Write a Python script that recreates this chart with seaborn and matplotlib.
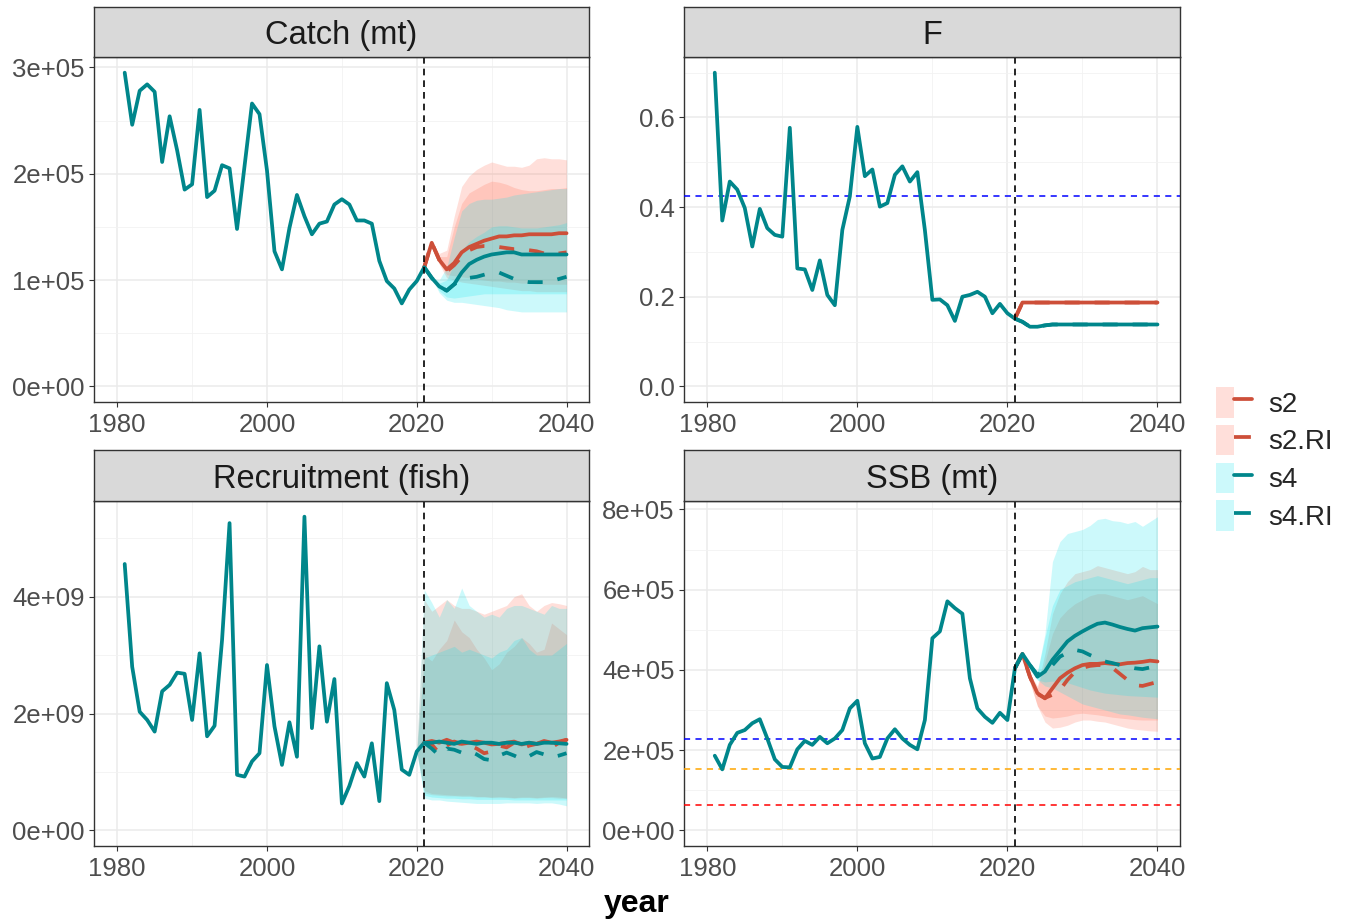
import numpy as np
import pandas as pd
import matplotlib
matplotlib.use("Agg")
import matplotlib.pyplot as plt
import seaborn as sns
from matplotlib.lines import Line2D
from matplotlib.patches import Patch
from matplotlib.legend_handler import HandlerTuple
from matplotlib.ticker import FixedLocator, FuncFormatter

sns.set_theme(style="white")
plt.rcParams["font.family"] = ["Liberation Sans", "DejaVu Sans"]

# ---------------- data ----------------
scenarios = ["s2", "s2.RI", "s4", "s4.RI"]
years_hist = list(range(1981, 2022))
years_proj = list(range(2022, 2041))

catch_hist = [295, 246, 278, 284, 277, 211, 254, 222, 185, 190, 260, 178, 184, 208, 205, 148,
              207, 266, 256, 203, 127, 110, 149, 180, 160, 143, 153, 155, 171, 176, 171, 156,
              156, 153, 118, 99, 92, 78, 91, 99, 112]  # thousand mt
catch_s2 = [135, 119, 110, 116, 126, 131, 134, 137, 139, 141, 141, 142, 142, 143, 143, 143, 143, 144, 144]
catch_s2RI = [135, 119, 108, 114, 122, 128, 131, 132, 132, 131, 130, 129, 129, 128, 127, 125, 124, 125, 126]
catch_s4 = [102, 94, 90, 96, 107, 115, 119, 122, 124, 125, 126, 126, 124, 124, 124, 124, 124, 124, 124]
catch_s4RI = [102, 94, 90, 96, 100, 102, 103, 105, 107, 107, 104, 101, 99, 98, 98, 98, 99, 101, 103]
catch_s2_hi = [135, 125, 128, 160, 188, 198, 204, 208, 211, 209, 207, 207, 206, 208, 214, 215, 214, 214, 213]
catch_s2_lo = [135, 116, 105, 104, 103, 102, 101, 100, 99, 99, 98, 98, 97, 97, 96, 96, 96, 96, 96]
catch_s2RI_hi = [135, 122, 122, 150, 172, 182, 186, 190, 193, 192, 190, 187, 185, 184, 184, 185, 186, 186, 187]
catch_s2RI_lo = [135, 115, 102, 100, 98, 97, 96, 95, 94, 93, 92, 91, 90, 90, 89, 89, 89, 89, 89]
catch_s4_hi = [102, 100, 112, 140, 165, 172, 175, 176, 176, 177, 178, 180, 181, 182, 183, 184, 185, 186, 186]
catch_s4_lo = [102, 90, 84, 83, 84, 85, 86, 87, 87, 87, 87, 87, 87, 87, 87, 87, 87, 87, 87]
catch_s4RI_hi = [102, 97, 100, 115, 128, 136, 141, 145, 150, 151, 151, 150, 149, 149, 149, 150, 151, 152, 154]
catch_s4RI_lo = [102, 88, 81, 79, 79, 78, 77, 76, 75, 74, 72, 71, 70, 70, 70, 70, 70, 70, 70]

f_hist = [0.70, 0.37, 0.457, 0.439, 0.398, 0.312, 0.396, 0.353, 0.338, 0.334, 0.577, 0.263, 0.261,
          0.215, 0.281, 0.204, 0.181, 0.349, 0.424, 0.579, 0.469, 0.484, 0.401, 0.409, 0.472, 0.491,
          0.457, 0.478, 0.349, 0.193, 0.194, 0.181, 0.146, 0.200, 0.204, 0.211, 0.200, 0.163, 0.184,
          0.163, 0.151]
f_s2 = [0.187] * 19
f_s2RI = [0.187] * 19
f_s4 = [0.144, 0.133, 0.133, 0.136] + [0.138] * 15
f_s4RI = [0.144, 0.133, 0.133, 0.136] + [0.138] * 15
f_ref = 0.425

rec_hist = [4.56, 2.80, 2.03, 1.89, 1.69, 2.38, 2.49, 2.70, 2.68, 1.89, 3.03, 1.61, 1.79, 3.26, 5.26,
            0.95, 0.92, 1.18, 1.32, 2.83, 1.78, 1.12, 1.85, 1.26, 5.37, 1.75, 3.15, 1.86, 2.59, 0.46,
            0.76, 1.15, 0.92, 1.49, 0.50, 2.52, 2.06, 1.04, 0.95, 1.35, 1.50]  # billions
rec_s2 = [1.53, 1.50, 1.55, 1.50, 1.48, 1.50, 1.52, 1.50, 1.47, 1.48, 1.50, 1.52, 1.47, 1.50, 1.48, 1.53, 1.50, 1.52, 1.55]
rec_s2RI = [1.47, 1.32, 1.45, 1.52, 1.48, 1.46, 1.40, 1.32, 1.35, 1.45, 1.42, 1.50, 1.40, 1.45, 1.48, 1.50, 1.42, 1.50, 1.55]
rec_s4 = [1.50, 1.52, 1.50, 1.48, 1.52, 1.50, 1.48, 1.50, 1.50, 1.48, 1.50, 1.50, 1.48, 1.50, 1.48, 1.50, 1.50, 1.49, 1.48]
rec_s4RI = [1.40, 1.28, 1.40, 1.38, 1.33, 1.36, 1.30, 1.22, 1.20, 1.28, 1.33, 1.28, 1.22, 1.27, 1.34, 1.30, 1.25, 1.28, 1.32]
years_rec_band = list(range(2020, 2041))
rec_s2_hi = [1.35, 3.95, 3.75, 3.85, 3.95, 3.85, 3.80, 3.80, 3.75, 3.70, 3.75, 3.80, 3.85, 4.00, 4.05, 3.85, 3.75, 3.85, 3.90, 3.88, 3.85]
rec_s2_lo = [1.35, 0.68, 0.63, 0.62, 0.61, 0.60, 0.60, 0.60, 0.58, 0.58, 0.57, 0.58, 0.57, 0.56, 0.57, 0.57, 0.56, 0.57, 0.58, 0.57, 0.55]
rec_s2RI_hi = [1.35, 3.00, 2.90, 3.10, 3.25, 3.60, 3.40, 3.30, 3.10, 2.95, 2.75, 2.85, 3.05, 3.15, 3.30, 3.20, 3.05, 3.10, 3.55, 3.45, 3.35]
rec_s2RI_lo = [1.35, 0.64, 0.61, 0.60, 0.59, 0.59, 0.58, 0.58, 0.57, 0.57, 0.56, 0.56, 0.56, 0.55, 0.56, 0.56, 0.55, 0.56, 0.56, 0.55, 0.55]
rec_s4_hi = [1.35, 4.12, 3.90, 3.65, 3.95, 3.80, 4.15, 3.85, 3.75, 3.65, 3.70, 3.65, 3.80, 3.85, 3.85, 3.80, 3.75, 3.70, 3.85, 3.80, 3.80]
rec_s4_lo = [1.35, 0.55, 0.52, 0.52, 0.50, 0.49, 0.48, 0.47, 0.46, 0.46, 0.46, 0.46, 0.47, 0.47, 0.47, 0.47, 0.46, 0.47, 0.47, 0.45, 0.42]
rec_s4RI_hi = [1.35, 2.95, 3.00, 3.05, 3.10, 3.15, 3.05, 3.10, 3.05, 3.00, 2.95, 3.05, 3.10, 3.25, 3.30, 3.10, 3.00, 3.00, 3.00, 3.10, 3.20]
rec_s4RI_lo = [1.35, 0.60, 0.57, 0.56, 0.55, 0.55, 0.54, 0.54, 0.53, 0.53, 0.53, 0.53, 0.53, 0.52, 0.52, 0.52, 0.52, 0.52, 0.52, 0.52, 0.52]

ssb_hist = [1.86, 1.52, 2.13, 2.43, 2.50, 2.67, 2.77, 2.29, 1.77, 1.58, 1.57, 2.02, 2.23, 2.13, 2.33,
            2.17, 2.29, 2.50, 3.04, 3.23, 2.17, 1.79, 1.83, 2.29, 2.52, 2.29, 2.13, 2.02, 2.75, 4.79,
            4.96, 5.71, 5.54, 5.40, 3.79, 3.04, 2.83, 2.68, 2.93, 2.75, 4.04]  # 1e5 mt
ssb_s2 = [4.40, 3.83, 3.42, 3.29, 3.54, 3.79, 3.93, 4.04, 4.12, 4.15, 4.15, 4.17, 4.15, 4.14, 4.17, 4.18, 4.20, 4.23, 4.21]
ssb_s2RI = [4.40, 3.83, 3.40, 3.30, 3.38, 3.50, 3.75, 3.95, 4.05, 4.10, 4.12, 4.12, 4.05, 3.90, 3.75, 3.62, 3.60, 3.65, 3.70]
ssb_s4 = [4.40, 4.12, 3.83, 3.96, 4.25, 4.48, 4.71, 4.85, 4.96, 5.06, 5.15, 5.18, 5.13, 5.07, 5.02, 4.98, 5.04, 5.06, 5.08]
ssb_s4RI = [4.40, 4.12, 3.88, 4.00, 4.12, 4.33, 4.43, 4.50, 4.46, 4.37, 4.29, 4.21, 4.17, 4.12, 4.08, 4.04, 4.02, 4.06, 4.12]
ssb_s2_hi = [4.40, 3.90, 3.60, 4.40, 5.40, 5.90, 6.20, 6.40, 6.45, 6.50, 6.60, 6.55, 6.50, 6.45, 6.40, 6.45, 6.58, 6.50, 6.50]
ssb_s2_lo = [4.40, 3.70, 3.10, 2.70, 2.55, 2.57, 2.62, 2.70, 2.75, 2.75, 2.72, 2.70, 2.65, 2.60, 2.55, 2.52, 2.50, 2.48, 2.47]
ssb_s2RI_hi = [4.40, 3.90, 3.55, 4.20, 4.90, 5.30, 5.50, 5.65, 5.75, 5.85, 5.90, 5.90, 5.85, 5.80, 5.75, 5.80, 5.85, 5.75, 5.65]
ssb_s2RI_lo = [4.40, 3.70, 3.10, 2.85, 2.80, 2.82, 2.85, 2.90, 2.92, 2.90, 2.88, 2.85, 2.82, 2.80, 2.78, 2.76, 2.75, 2.75, 2.75]
ssb_s4_hi = [4.40, 4.15, 3.95, 4.90, 6.70, 7.20, 7.40, 7.45, 7.50, 7.60, 7.75, 7.78, 7.72, 7.70, 7.65, 7.70, 7.58, 7.70, 7.82]
ssb_s4_lo = [4.40, 4.10, 3.75, 3.70, 3.72, 3.70, 3.68, 3.62, 3.56, 3.50, 3.46, 3.42, 3.40, 3.38, 3.36, 3.35, 3.34, 3.33, 3.32]
ssb_s4RI_hi = [4.40, 4.15, 3.95, 4.80, 5.60, 6.00, 6.10, 6.20, 6.25, 6.30, 6.35, 6.30, 6.25, 6.20, 6.15, 6.20, 6.25, 6.30, 6.30]
ssb_s4RI_lo = [4.40, 4.10, 3.75, 3.60, 3.55, 3.45, 3.35, 3.25, 3.15, 3.10, 3.05, 3.00, 2.95, 2.90, 2.88, 2.85, 2.82, 2.80, 2.78]
ssb_refs = [2.28, 1.53, 0.62]

panel_titles = ["Catch (mt)", "F", "Recruitment (fish)", "SSB (mt)"]

# ---------------- styles ----------------
line_cols = {"s2": "#CD4F39", "s2.RI": "#CD4F39", "s4": "#00868B", "s4.RI": "#00868B"}
fill_cols = {"s2": "#FF6347", "s2.RI": "#FF6347", "s4": "#00E5EE", "s4.RI": "#00E5EE"}
dash_map = {"s2": "", "s2.RI": (4, 4), "s4": "", "s4.RI": (4, 4)}
LW = 2.7

panels = [
    dict(title=panel_titles[0], scale=1e3, hist=catch_hist,
         proj=[catch_s2, catch_s2RI, catch_s4, catch_s4RI],
         band_years=years_proj,
         bands=[(catch_s2_lo, catch_s2_hi), (catch_s2RI_lo, catch_s2RI_hi),
                (catch_s4_lo, catch_s4_hi), (catch_s4RI_lo, catch_s4RI_hi)],
         ticks=[0, 1e5, 2e5, 3e5], fmt="sci", refs=[]),
    dict(title=panel_titles[1], scale=1.0, hist=f_hist,
         proj=[f_s2, f_s2RI, f_s4, f_s4RI], band_years=None, bands=None,
         ticks=[0, 0.2, 0.4, 0.6], fmt="f", refs=[(f_ref, "#0000FF")]),
    dict(title=panel_titles[2], scale=1e9, hist=rec_hist,
         proj=[rec_s2, rec_s2RI, rec_s4, rec_s4RI],
         band_years=years_rec_band,
         bands=[(rec_s2_lo, rec_s2_hi), (rec_s2RI_lo, rec_s2RI_hi),
                (rec_s4_lo, rec_s4_hi), (rec_s4RI_lo, rec_s4RI_hi)],
         ticks=[0, 2e9, 4e9], fmt="sci", refs=[]),
    dict(title=panel_titles[3], scale=1e5, hist=ssb_hist,
         proj=[ssb_s2, ssb_s2RI, ssb_s4, ssb_s4RI],
         band_years=years_proj,
         bands=[(ssb_s2_lo, ssb_s2_hi), (ssb_s2RI_lo, ssb_s2RI_hi),
                (ssb_s4_lo, ssb_s4_hi), (ssb_s4RI_lo, ssb_s4RI_hi)],
         ticks=[0, 2e5, 4e5, 6e5, 8e5], fmt="sci",
         refs=[(ssb_refs[0], "#0000FF"), (ssb_refs[1], "#FFA500"), (ssb_refs[2], "#FF0000")]),
]

W, H = 1351, 922
fig = plt.figure(figsize=(W / 100, H / 100), dpi=100)
fig.patch.set_facecolor("white")

panel_px = [(94, 57, 589, 402), (684, 57, 1180, 402), (94, 501, 589, 846), (684, 501, 1180, 846)]
strip_px = [(94, 7, 589, 57), (684, 7, 1180, 57), (94, 450, 589, 501), (684, 450, 1180, 501)]


def frac(box):
    l, t, r, b = box
    return [l / W, (H - b) / H, (r - l) / W, (b - t) / H]


XLIM = (1976.9, 2043.0)

for i, p in enumerate(panels):
    ax = fig.add_axes(frac(panel_px[i]))
    s = p["scale"]
    if p["bands"] is not None:
        for sc, (lo, hi) in zip(scenarios, p["bands"]):
            ax.fill_between(p["band_years"], np.array(lo) * s, np.array(hi) * s,
                            color=fill_cols[sc], alpha=0.2, linewidth=0, zorder=2)
    for val, col in p["refs"]:
        ax.axhline(val * s, color=col, lw=1.1, dashes=(4, 3.5), zorder=3)
    hist_df = pd.DataFrame({"year": years_hist, "value": np.array(p["hist"]) * s})
    sns.lineplot(data=hist_df, x="year", y="value", color="#00868B", lw=LW,
                 estimator=None, ax=ax, zorder=5)
    rows = []
    for sc, vals in zip(scenarios, p["proj"]):
        rows.append(pd.DataFrame({"year": [years_hist[-1]] + years_proj,
                                  "value": np.array([p["hist"][-1]] + list(vals)) * s,
                                  "scenario": sc}))
    proj_df = pd.concat(rows, ignore_index=True)
    sns.lineplot(data=proj_df, x="year", y="value", hue="scenario", style="scenario",
                 hue_order=scenarios, style_order=scenarios,
                 palette=line_cols, dashes=dash_map, lw=LW, estimator=None,
                 legend=False, ax=ax, zorder=5)
    ax.axvline(2021, color="black", lw=1.2, dashes=(4, 3), zorder=6)

    vals_all = list(np.array(p["hist"]) * s)
    for v in p["proj"]:
        vals_all += list(np.array(v) * s)
    if p["bands"] is not None:
        for lo, hi in p["bands"]:
            vals_all += list(np.array(hi) * s)
    ymin, ymax = 0.0, max(vals_all)
    pad = 0.05 * (ymax - ymin)
    ax.set_ylim(ymin - pad, ymax + pad)
    ax.set_xlim(*XLIM)

    ticks = p["ticks"]
    ax.yaxis.set_major_locator(FixedLocator(ticks))
    step = ticks[1] - ticks[0]
    minors = [ticks[0] - step / 2] + [t + step / 2 for t in ticks]
    ax.yaxis.set_minor_locator(FixedLocator(minors))
    if p["fmt"] == "sci":
        ax.yaxis.set_major_formatter(FuncFormatter(lambda v, pos: f"{v:.0e}"))
    else:
        ax.yaxis.set_major_formatter(FuncFormatter(lambda v, pos: f"{v:.1f}"))
    ax.xaxis.set_major_locator(FixedLocator([1980, 2000, 2020, 2040]))
    ax.xaxis.set_minor_locator(FixedLocator([1990, 2010, 2030]))
    ax.xaxis.set_major_formatter(FuncFormatter(lambda v, pos: f"{int(v)}"))

    ax.grid(which="major", color="#EBEBEB", lw=1.1, zorder=0)
    ax.grid(which="minor", color="#F2F2F2", lw=0.6, zorder=0)
    ax.set_axisbelow(True)
    ax.tick_params(which="major", length=3.6, width=0.8, color="#333333",
                   labelsize=18.5, labelcolor="#4D4D4D",
                   bottom=True, left=True)
    ax.tick_params(axis="x", which="major", pad=4.5)
    ax.tick_params(axis="y", which="major", pad=3.0)
    ax.tick_params(which="minor", length=0)
    for sp in ax.spines.values():
        sp.set_color("#333333")
        sp.set_linewidth(1.0)
        sp.set_visible(True)
    ax.set_xlabel("")
    ax.set_ylabel("")
    ax.set_facecolor("white")

    sax = fig.add_axes(frac(strip_px[i]))
    sax.set_facecolor("#D9D9D9")
    sax.set_xticks([])
    sax.set_yticks([])
    for sp in sax.spines.values():
        sp.set_color("#333333")
        sp.set_linewidth(1.0)
    sax.text(0.5, 0.43, p["title"], ha="center", va="center", fontsize=23.5,
             color="#1A1A1A", transform=sax.transAxes)

fig.text(637 / W, (H - 912) / H, "year", ha="center", va="baseline",
         fontsize=23, fontweight="bold", color="black")

handles = []
for sc in scenarios:
    patch = Patch(facecolor=fill_cols[sc], alpha=0.2, edgecolor="none")
    if dash_map[sc] == "":
        ln = Line2D([], [], color=line_cols[sc], lw=LW)
    else:
        ln = Line2D([], [], color=line_cols[sc], lw=LW, dashes=(4.5, 6))
    handles.append((patch, ln))

fig.legend(handles=handles, labels=scenarios,
           handler_map={tuple: HandlerTuple(ndivide=None, pad=0)},
           loc="center left", bbox_to_anchor=(1216 / W, (H - 459) / H),
           frameon=False, fontsize=20, handlelength=1.3, handleheight=1.3,
           labelspacing=0.26, handletextpad=0.58, borderpad=0, borderaxespad=0)

fig.savefig("out.png", dpi=100, facecolor="white")
